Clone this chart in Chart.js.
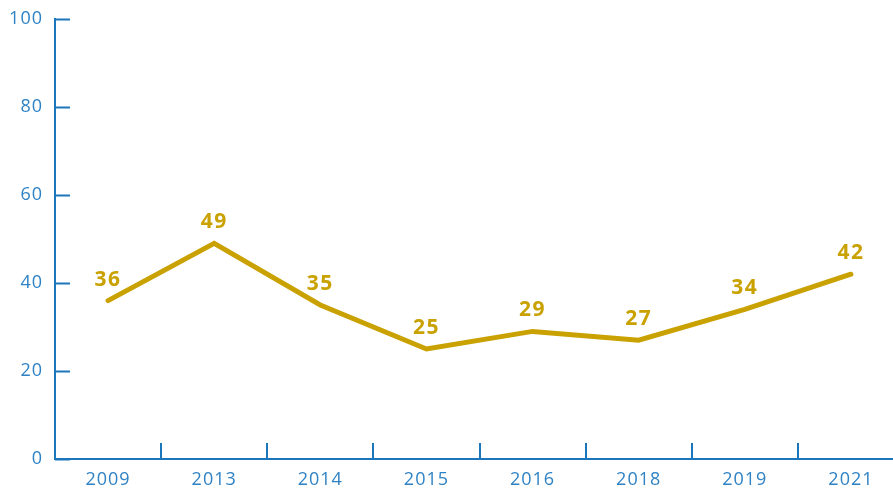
<!DOCTYPE html>
<html>
<head>
<meta charset="utf-8">
<script src="https://cdn.jsdelivr.net/npm/chart.js@4/dist/chart.umd.min.js"></script>
<style>
  html, body { margin: 0; padding: 0; background: #ffffff; }
  #wrap { width: 893px; height: 488px; position: relative; overflow: hidden; }
  #c { position: absolute; left: 0; top: 0; }
</style>
</head>
<body>
<div id="wrap"><canvas id="c" width="904" height="488"></canvas></div>
<script>
const years = ['2009', '2013', '2014', '2015', '2016', '2018', '2019', '2021'];
const shares = [36, 49, 35, 25, 29, 27, 34, 42];
const yTicks = [0, 20, 40, 60, 80, 100];

const AXIS = '#1c76bc';
const TICK_TEXT = '#2f82c4';
const GOLD = '#c9a100';

// Slightly spaced lettering for the axis labels
const spacing = {
  id: 'spacing',
  beforeDraw(chart) { chart.ctx.letterSpacing = '1px'; }
};

// Inward tick marks on both axes and value labels above each point
const decorations = {
  id: 'decorations',
  afterDatasetsDraw(chart) {
    const { ctx, chartArea, scales } = chart;
    const x = scales.x, y = scales.y;
    ctx.save();
    ctx.strokeStyle = AXIS;
    ctx.lineWidth = 2;
    ctx.beginPath();
    yTicks.forEach(v => {
      const py = Math.round(y.getPixelForValue(v)) + 0.5;
      ctx.moveTo(chartArea.left, py);
      ctx.lineTo(chartArea.left + 15, py);
    });
    for (let i = 0; i < years.length - 1; i++) {
      const px = Math.round((x.getPixelForValue(i) + x.getPixelForValue(i + 1)) / 2);
      ctx.moveTo(px, chartArea.bottom);
      ctx.lineTo(px, chartArea.bottom - 16);
    }
    ctx.stroke();

    const meta = chart.getDatasetMeta(0);
    ctx.fillStyle = GOLD;
    ctx.font = 'bold 21px "Open Sans"';
    ctx.letterSpacing = '1.5px';
    ctx.textAlign = 'center';
    ctx.textBaseline = 'middle';
    meta.data.forEach((pt, i) => {
      ctx.fillText(String(shares[i]), pt.x, pt.y - 21);
    });
    ctx.restore();
  }
};

new Chart(document.getElementById('c'), {
  type: 'line',
  data: {
    labels: years,
    datasets: [{
      data: shares,
      borderColor: GOLD,
      borderWidth: 5,
      borderCapStyle: 'round',
      borderJoinStyle: 'miter',
      tension: 0,
      pointRadius: 0,
      fill: false
    }]
  },
  options: {
    responsive: false,
    animation: false,
    layout: { padding: { left: 0, right: 0, top: 19, bottom: 0 } },
    plugins: { legend: { display: false }, tooltip: { enabled: false } },
    scales: {
      x: {
        type: 'category',
        offset: true,
        grid: { display: false, drawTicks: false },
        border: { display: true, color: AXIS, width: 2 },
        ticks: {
          color: TICK_TEXT,
          font: { family: '"Open Sans"', size: 18 },
          padding: 10,
          maxRotation: 0,
          autoSkip: false
        },
        afterFit(s) { s.height = 29; }
      },
      y: {
        min: 0,
        max: 100,
        grid: { display: false, drawTicks: false },
        border: { display: true, color: AXIS, width: 2 },
        afterBuildTicks(s) { s.ticks = yTicks.map(v => ({ value: v })); },
        ticks: {
          color: TICK_TEXT,
          font: { family: '"Open Sans"', size: 18 },
          padding: 12
        },
        afterFit(s) {
          s.width = 55;
          s.paddingTop = 0;
          s.paddingBottom = 0;
        }
      }
    }
  },
  plugins: [spacing, decorations]
});
</script>
</body>
</html>
